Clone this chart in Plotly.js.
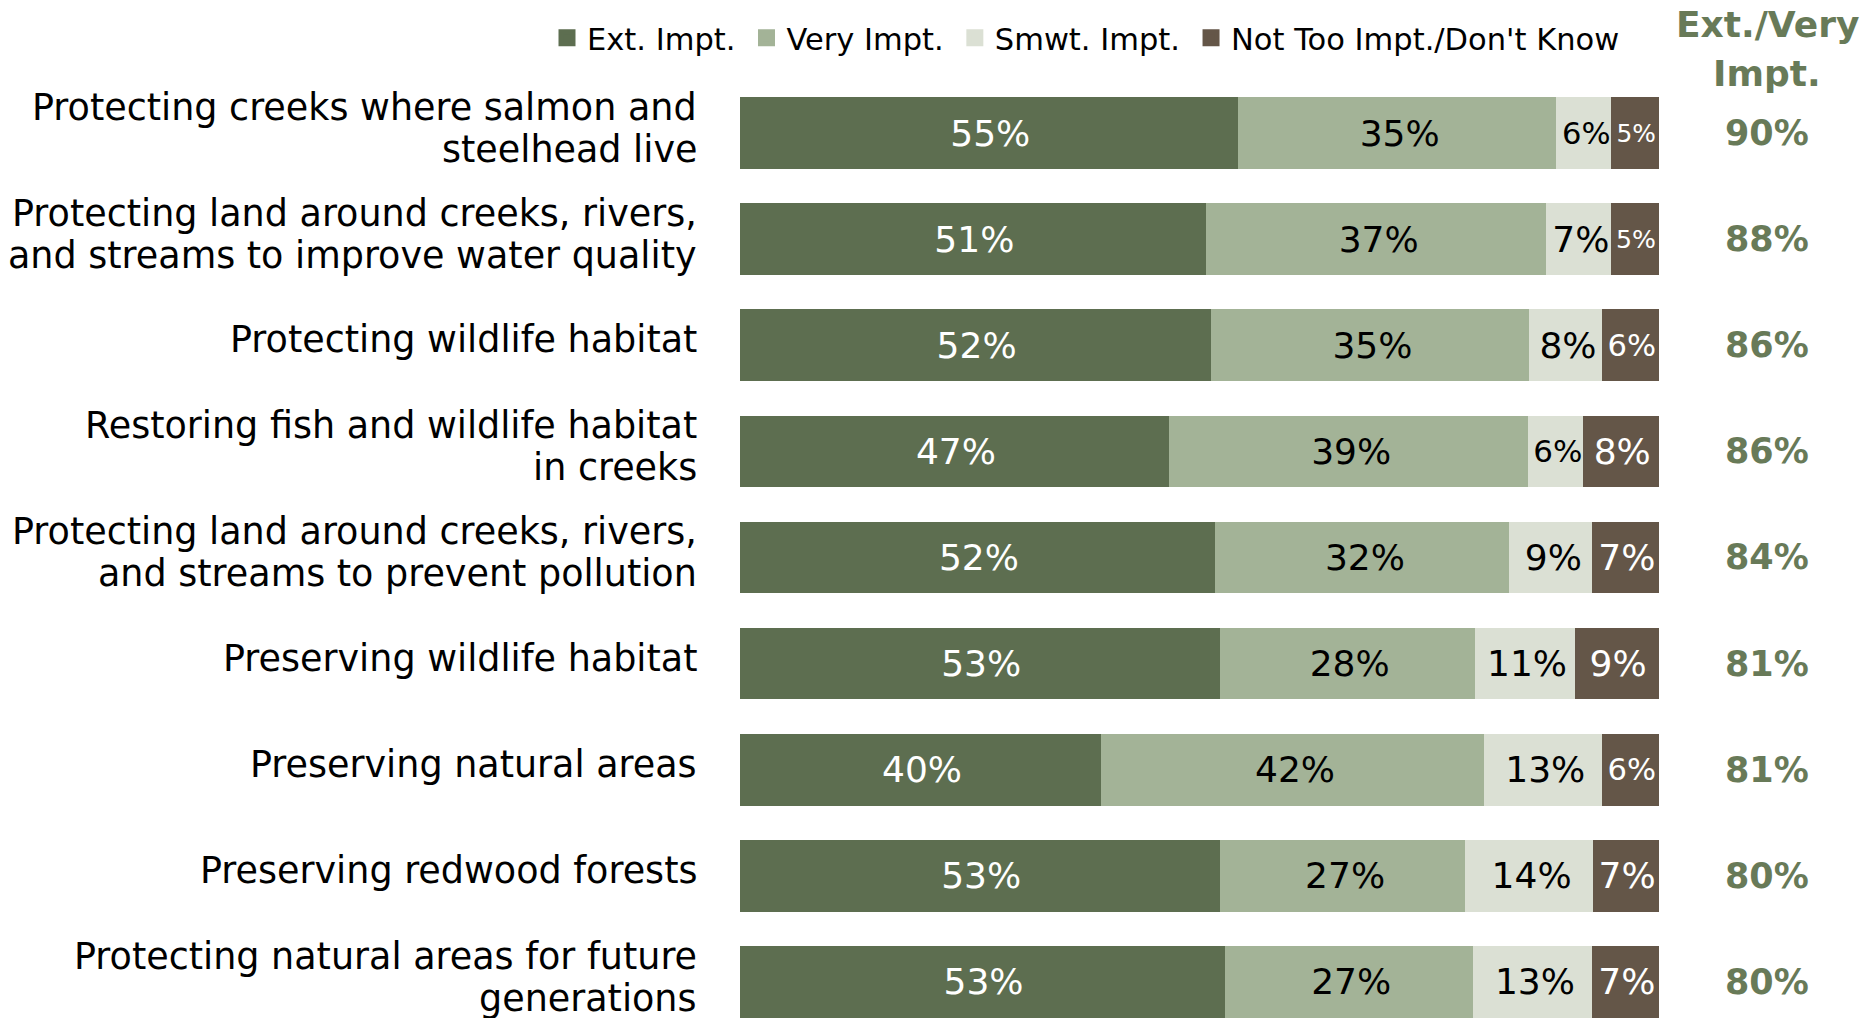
<!DOCTYPE html>
<html>
<head>
<meta charset="utf-8">
<script src="https://cdn.plot.ly/plotly-3.0.1.min.js"></script>
<style>
  html, body { margin: 0; padding: 0; background: #ffffff; }
  #chart { width: 1866px; height: 1018px; }
</style>
</head>
<body>
<div id="chart"></div>
<script>
const categories = [
  "Protecting creeks where salmon and\nsteelhead live",
  "Protecting land around creeks, rivers,\nand streams to improve water quality",
  "Protecting wildlife habitat",
  "Restoring fish and wildlife habitat\nin creeks",
  "Protecting land around creeks, rivers,\nand streams to prevent pollution",
  "Preserving wildlife habitat",
  "Preserving natural areas",
  "Preserving redwood forests",
  "Protecting natural areas for future\ngenerations"
];
const seriesNames = ["Ext. Impt.", "Very Impt.", "Smwt. Impt.", "Not Too Impt./Don't Know"];
const extImpt = [55, 51, 52, 47, 52, 53, 40, 53, 53];
const veryImpt = [35, 37, 35, 39, 32, 28, 42, 27, 27];
const smwtImpt = [6, 7, 8, 6, 9, 11, 13, 14, 13];
const notTooImpt = [5, 5, 6, 8, 7, 9, 6, 7, 7];
const extVeryTotal = [90, 88, 86, 86, 84, 81, 81, 80, 80];
const totalHeader = ["Ext./Very", "Impt."];

const colors = ["#5d6e50", "#a3b397", "#dbe0d4", "#645648"];
const textColors = ["#ffffff", "#000000", "#000000", "#ffffff"];
const totalColor = "#687a58";
const FONT = "'DejaVu Sans', sans-serif";
const rowIdx = categories.map((_, i) => i);

// plot area geometry (pixels)
const PLOT_TOP = 80, PLOT_H = 1018 - 80, PLOT_L = 740, PLOT_W = 919;
const colX = (1767 - PLOT_L) / PLOT_W;
const labelX = (699 - PLOT_L) / PLOT_W;
const pyToPaper = p => 1 + (PLOT_TOP - p) / PLOT_H;
const pxToPaper = p => (p - PLOT_L) / PLOT_W;

const allSeries = [extImpt, veryImpt, smwtImpt, notTooImpt];
const traces = allSeries.map((vals, k) => ({
  type: "bar",
  orientation: "h",
  name: seriesNames[k] + "\u2009",
  x: vals,
  y: rowIdx,
  width: 0.628,
  marker: { color: colors[k], line: { width: 5, color: colors[k] } },
  text: vals.map(v => v + "%"),
  textposition: "inside",
  insidetextanchor: "middle",
  textangle: 0,
  textfont: { family: FONT, size: 36, color: textColors[k] },
  hoverinfo: "skip"
}));

const annotations = [];
// category labels, one annotation per line for exact line spacing
categories.forEach((cat, i) => {
  const lines = cat.split("\n");
  const shifts = lines.length === 2 ? [25.5, -16.5] : [5.5];
  lines.forEach((ln, j) => {
    annotations.push({
      xref: "paper", yref: "y",
      x: labelX, y: i, yshift: shifts[j],
      text: ln, showarrow: false,
      xanchor: "right", yanchor: "middle",
      font: { family: FONT, size: 36.5, color: "#000000" }
    });
  });
});
// Ext./Very totals
extVeryTotal.forEach((v, i) => {
  annotations.push({
    xref: "paper", yref: "y",
    x: colX, y: i,
    text: v + "%",
    showarrow: false,
    xanchor: "center", yanchor: "middle",
    font: { family: FONT, size: 35, color: totalColor, weight: "bold" }
  });
});
// header
[24, 74].forEach((py, j) => {
  annotations.push({
    xref: "paper", yref: "paper",
    x: colX, y: pyToPaper(py),
    text: totalHeader[j],
    showarrow: false,
    xanchor: "center", yanchor: "middle",
    font: { family: FONT, size: 36, color: totalColor, weight: "bold" }
  });
});

const layout = {
  width: 1866, height: 1018,
  paper_bgcolor: "#ffffff", plot_bgcolor: "#ffffff",
  margin: { l: PLOT_L, r: 1866 - PLOT_L - PLOT_W, t: PLOT_TOP, b: 0, pad: 0 },
  barmode: "stack",
  barnorm: "percent",
  showlegend: true,
  legend: {
    orientation: "h",
    xref: "paper", yref: "paper",
    x: pxToPaper(547), y: pyToPaper(38),
    xanchor: "left", yanchor: "middle",
    font: { family: FONT, size: 30.5, color: "#000000" },
    traceorder: "normal",
    itemwidth: 30
  },
  xaxis: { range: [0, 100], visible: false, fixedrange: true },
  yaxis: {
    range: [8.34, -0.5],
    visible: false,
    fixedrange: true
  },
  annotations: annotations,
  font: { family: FONT }
};

Plotly.newPlot("chart", traces, layout, { displayModeBar: false, staticPlot: true });
</script>
</body>
</html>
